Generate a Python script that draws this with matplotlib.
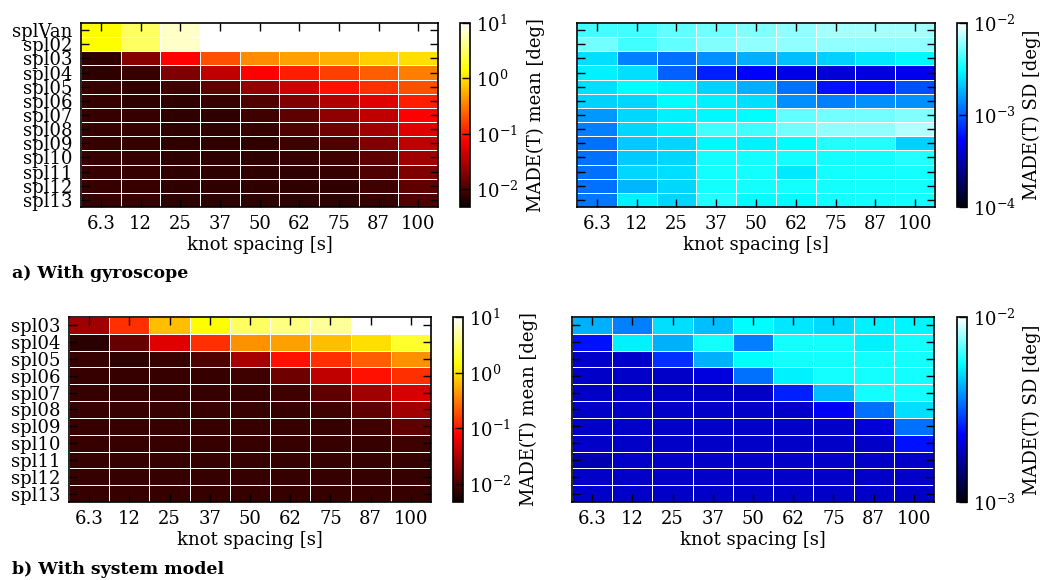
import numpy as np
import matplotlib
matplotlib.use('Agg')
import matplotlib.pyplot as plt
from matplotlib.colors import LogNorm, ListedColormap

plt.rcParams['font.family'] = 'DejaVu Serif'
plt.rcParams['mathtext.fontset'] = 'cm'
plt.rcParams['font.size'] = 13

knots = ['6.3', '12', '25', '37', '50', '62', '75', '87', '100']
rows_gyro = ['splVan', 'spl02', 'spl03', 'spl04', 'spl05', 'spl06', 'spl07',
             'spl08', 'spl09', 'spl10', 'spl11', 'spl12', 'spl13']
rows_model = ['spl03', 'spl04', 'spl05', 'spl06', 'spl07', 'spl08',
              'spl09', 'spl10', 'spl11', 'spl12', 'spl13']

# a) with gyroscope: mean [deg]
gyro_mean = [
    [1.4, 3.0, 6.5, 15, 15, 15, 15, 15, 15],
    [1.4, 3.0, 6.5, 15, 15, 15, 15, 15, 15],
    [0.0073, 0.020, 0.08, 0.19, 0.38, 0.48, 0.58, 0.83, 1.0],
    [0.0073, 0.0081, 0.0183, 0.038, 0.078, 0.11, 0.16, 0.23, 0.33],
    [0.0081, 0.0073, 0.0088, 0.0127, 0.022, 0.0457, 0.093, 0.135, 0.19],
    [0.0082, 0.0073, 0.0073, 0.0081, 0.0106, 0.0183, 0.0317, 0.0548, 0.11],
    [0.0082, 0.0081, 0.0073, 0.0073, 0.0088, 0.0127, 0.022, 0.038, 0.078],
    [0.0082, 0.0081, 0.0073, 0.0073, 0.0081, 0.0106, 0.0152, 0.0264, 0.0548],
    [0.0082, 0.0081, 0.0073, 0.0073, 0.0073, 0.0088, 0.0106, 0.0183, 0.038],
    [0.0082, 0.0081, 0.0073, 0.0073, 0.0073, 0.0081, 0.0088, 0.0127, 0.0264],
    [0.0082, 0.0081, 0.0073, 0.0073, 0.0073, 0.0073, 0.0081, 0.0106, 0.0183],
    [0.0082, 0.0081, 0.0073, 0.0073, 0.0073, 0.0073, 0.0073, 0.0088, 0.0127],
    [0.0082, 0.0081, 0.0073, 0.0073, 0.0073, 0.0073, 0.0073, 0.0081, 0.0106],
]

# a) with gyroscope: SD [deg]
gyro_sd = [
    [0.0042, 0.0042, 0.0048, 0.0052, 0.0056, 0.006, 0.0065, 0.0065, 0.0065],
    [0.0052, 0.0042, 0.0048, 0.0056, 0.006, 0.006, 0.006, 0.006, 0.006],
    [0.0025, 0.0013, 0.00116, 0.00145, 0.0018, 0.002, 0.00225, 0.00265, 0.00296],
    [0.0028, 0.0025, 0.00104, 0.00067, 0.00054, 0.00046, 0.00041, 0.00043, 0.00048],
    [0.0025, 0.0031, 0.0028, 0.00225, 0.0018, 0.00116, 0.0006, 0.0006, 0.00093],
    [0.00225, 0.00237, 0.0031, 0.0028, 0.0025, 0.00145, 0.0013, 0.00145, 0.00145],
    [0.00153, 0.00237, 0.0028, 0.00296, 0.0031, 0.0048, 0.0052, 0.0052, 0.0056],
    [0.0013, 0.00237, 0.0028, 0.0042, 0.0042, 0.0052, 0.006, 0.006, 0.007],
    [0.00116, 0.00213, 0.00237, 0.00296, 0.0028, 0.0031, 0.0036, 0.0036, 0.00225],
    [0.00116, 0.00213, 0.00237, 0.00334, 0.00334, 0.00334, 0.00334, 0.00334, 0.0036],
    [0.00116, 0.00237, 0.0025, 0.00334, 0.00334, 0.00265, 0.00334, 0.00334, 0.00334],
    [0.00116, 0.0019, 0.00237, 0.00334, 0.00334, 0.00334, 0.00334, 0.00334, 0.00334],
    [0.00123, 0.0028, 0.00237, 0.0036, 0.0031, 0.0031, 0.00334, 0.00334, 0.00334],
]

# b) with system model: mean [deg]
model_mean = [
    [0.0264, 0.135, 0.69, 1.43, 3.0, 3.8, 4.5, 15, 15],
    [0.007, 0.014, 0.0548, 0.135, 0.4, 0.48, 0.69, 1.0, 2.0],
    [0.0081, 0.0073, 0.0081, 0.0106, 0.029, 0.093, 0.135, 0.23, 0.4],
    [0.0081, 0.0081, 0.0081, 0.0081, 0.0088, 0.0152, 0.038, 0.093, 0.135],
    [0.0081, 0.0081, 0.0081, 0.0081, 0.0081, 0.0088, 0.0127, 0.0264, 0.05],
    [0.0081, 0.0081, 0.0081, 0.0081, 0.0081, 0.0081, 0.0088, 0.0127, 0.0264],
    [0.0081, 0.0081, 0.0081, 0.0081, 0.0081, 0.0081, 0.0081, 0.0088, 0.0127],
    [0.0081, 0.0081, 0.0081, 0.0081, 0.0081, 0.0081, 0.0081, 0.0081, 0.0088],
    [0.0081, 0.0081, 0.0081, 0.0081, 0.0081, 0.0081, 0.0081, 0.0081, 0.0081],
    [0.0081, 0.0081, 0.0081, 0.0081, 0.0081, 0.0081, 0.0081, 0.0081, 0.0081],
    [0.0081, 0.0081, 0.0081, 0.0081, 0.0081, 0.0081, 0.0081, 0.0081, 0.0081],
]

# b) with system model: SD [deg]
model_sd = [
    [0.00425, 0.00359, 0.00499, 0.00448, 0.00557, 0.0051, 0.00488, 0.0053, 0.0054],
    [0.00245, 0.0053, 0.00425, 0.00578, 0.00359, 0.00578, 0.00578, 0.0053, 0.00578],
    [0.00192, 0.00192, 0.00273, 0.00425, 0.00557, 0.00578, 0.00578, 0.00578, 0.00578],
    [0.00192, 0.00192, 0.00192, 0.00208, 0.0034, 0.0053, 0.00578, 0.00578, 0.00578],
    [0.00192, 0.00192, 0.00192, 0.00192, 0.00192, 0.00259, 0.00448, 0.00578, 0.00578],
    [0.00192, 0.00192, 0.00192, 0.00192, 0.00192, 0.00192, 0.00226, 0.0034, 0.00499],
    [0.00192, 0.00192, 0.00192, 0.00192, 0.00192, 0.00192, 0.00192, 0.00203, 0.0034],
    [0.00192, 0.00192, 0.00192, 0.00192, 0.00192, 0.00192, 0.00192, 0.00192, 0.00245],
    [0.00177, 0.00192, 0.00192, 0.00192, 0.00192, 0.00192, 0.00192, 0.00192, 0.00192],
    [0.00192, 0.00192, 0.00192, 0.00192, 0.00192, 0.00192, 0.00192, 0.00192, 0.00192],
    [0.00192, 0.00192, 0.00192, 0.00192, 0.00192, 0.00192, 0.00192, 0.00192, 0.00192],
]

# hot with red/blue channels swapped -> black, blue, cyan, white
hot = plt.get_cmap('hot')
blue_hot = ListedColormap(hot(np.linspace(0, 1, 256))[:, [2, 1, 0, 3]])
blue_hot.set_over('white')

cmap_hot = plt.get_cmap('hot').copy()
cmap_hot.set_over('white')

W, H = 1040, 580
fig = plt.figure(figsize=(W / 100, H / 100), dpi=100)


def px(x0, y0, x1, y1):
    return [x0 / W, 1 - y1 / H, (x1 - x0) / W, (y1 - y0) / H]


def heatmap(rect, crect, data, rows, cmap, vmin, vmax, clabel, ylabels=True, lpad=6):
    ax = fig.add_axes(px(*rect))
    data = np.array(data)
    mesh = ax.pcolormesh(np.arange(len(knots) + 1), np.arange(len(rows) + 1), data,
                         cmap=cmap, norm=LogNorm(vmin=vmin, vmax=vmax),
                         edgecolors='white', linewidth=0.6)
    ax.set_xlim(0, len(knots))
    ax.set_ylim(len(rows), 0)
    ax.set_xticks(np.arange(len(knots)) + 0.5)
    ax.set_xticklabels(knots)
    ax.set_yticks(np.arange(len(rows)) + 0.5)
    ax.set_yticklabels(rows if ylabels else [])
    ax.tick_params(direction='in', top=True, right=True, length=6, width=1, pad=6)
    ax.set_xlabel('knot spacing [s]', labelpad=2)
    for s in ax.spines.values():
        s.set_linewidth(1.2)
    cax = fig.add_axes(px(*crect))
    cb = fig.colorbar(mesh, cax=cax)
    cb.ax.minorticks_off()
    cb.ax.tick_params(direction='in', length=6, width=1, pad=4)
    cb.outline.set_linewidth(1.2)
    cb.set_label(clabel, labelpad=lpad)
    return ax


heatmap((81, 23, 438, 207), (460, 23, 470, 207), gyro_mean, rows_gyro,
        cmap_hot, 0.0048, 10, 'MADE(T) mean [deg]')
heatmap((577, 23, 935, 207), (957, 23, 967, 207), gyro_sd, rows_gyro,
        blue_hot, 1e-4, 1e-2, 'MADE(T) SD [deg]', ylabels=False, lpad=5)
heatmap((69, 317, 431, 502), (453, 317, 463, 502), model_mean, rows_model,
        cmap_hot, 0.0048, 10, 'MADE(T) mean [deg]')
heatmap((572, 317, 934, 502), (957, 317, 967, 502), model_sd, rows_model,
        blue_hot, 1e-3, 1e-2, 'MADE(T) SD [deg]', ylabels=False, lpad=5)

fig.text(12 / W, 1 - 273 / H, 'a) With gyroscope', fontsize=12.5, fontweight='bold',
         va='center', ha='left')
fig.text(12 / W, 1 - 570 / H, 'b) With system model', fontsize=12.5, fontweight='bold',
         va='center', ha='left')

fig.savefig('out.png', dpi=100)
